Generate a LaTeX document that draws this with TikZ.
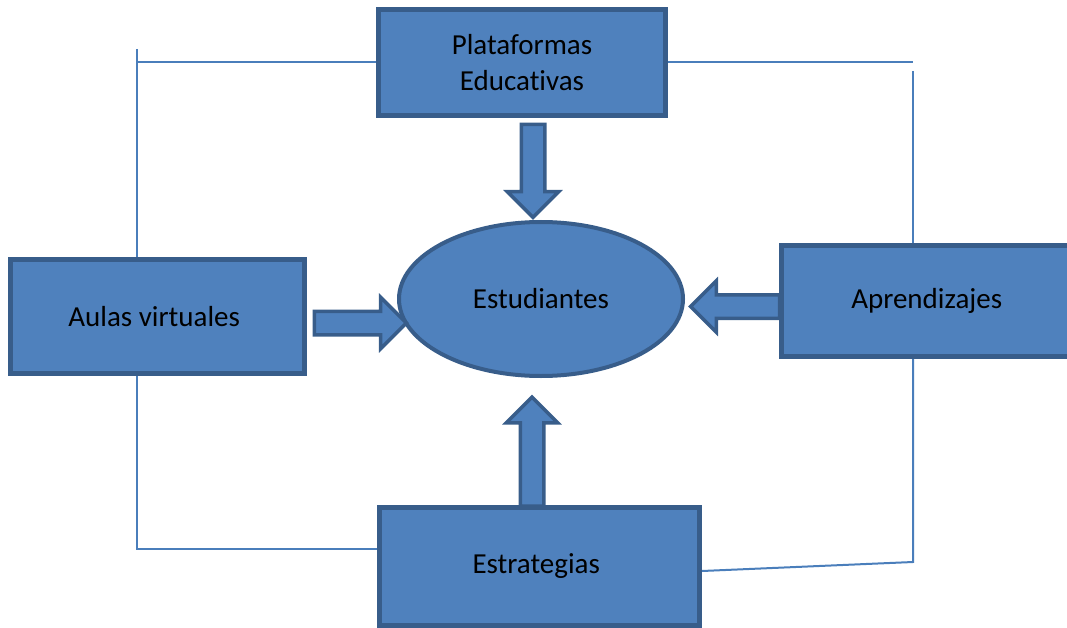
\documentclass[tikz,border=0pt]{standalone}
\usepackage{fontspec}
\setmainfont{Carlito}[Ligatures=NoCommon]
\usetikzlibrary{shapes.geometric,shapes.arrows,backgrounds}
\definecolor{relleno}{HTML}{4F81BD}
\definecolor{borde}{HTML}{385D8A}
\definecolor{linea}{HTML}{4A7EBB}
\tikzset{
    caja/.style={draw=borde, fill=relleno, line width=5pt, inner sep=0pt, align=center, font=\fontsize{29}{36}\selectfont},
    flecha/.style={single arrow, draw=borde, fill=relleno, line width=3.5pt, inner sep=10pt, minimum width=48pt, single arrow head extend=14pt, single arrow head indent=0pt, single arrow tip angle=90},
    conector/.style={draw=linea, line width=2pt}
}
\begin{document}
\begin{tikzpicture}[x=1pt,y=-1pt]
            \useasboundingbox (0,0) rectangle (1067,628);

            \node[caja, minimum width=287pt, minimum height=106pt] (plat) at (522,62.5) { Plataformas\\Educativas };
            \node[caja, minimum width=294pt, minimum height=114pt] (aulas) at (157.5,316.5) { Aulas virtuales };
            \node[caja, minimum width=297pt, minimum height=111pt] (apre) at (930,301) { Aprendizajes };
            \node[caja, minimum width=320pt, minimum height=118pt] (estr) at (539.5,566.5) { Estrategias };
            \node[ellipse, draw=borde, fill=relleno, line width=4pt, minimum width=284pt, minimum height=154pt, font=\fontsize{29}{36}\selectfont] (estu) at (541,299) { Estudiantes };

            \node[flecha, minimum height=93pt, rotate=-90] (f1) at (533,165) {};
            \node[flecha, minimum height=92pt] (f2) at (354.5,323) {};
            \node[flecha, minimum height=89pt, rotate=180] (f3) at (741,306.5) {};
            \node[flecha, minimum height=109pt, rotate=90] (f4) at (532,457.5) {};

            \coordinate (esqA) at (137,49);
            \coordinate (esqB) at (913,71);
            \coordinate (esqC) at (137,549);
            \coordinate (esqD) at (913,562);

            \begin{scope}[on background layer]
            \draw[conector] (plat.west) -- (plat.west -| esqA);
            \draw[conector] (esqA) -- (esqA |- aulas.north);
            \draw[conector] (plat.east) -- (plat.east -| esqB);
            \draw[conector] (esqB) -- (esqB |- apre.north);
            \draw[conector] (esqC |- aulas.south) -- (esqC) -- (esqC -| estr.west);
            \draw[conector] (esqD |- apre.south) -- (esqD) -- ([yshift=-4.5pt]estr.east);
            \end{scope}

        \end{tikzpicture}
\end{document}
